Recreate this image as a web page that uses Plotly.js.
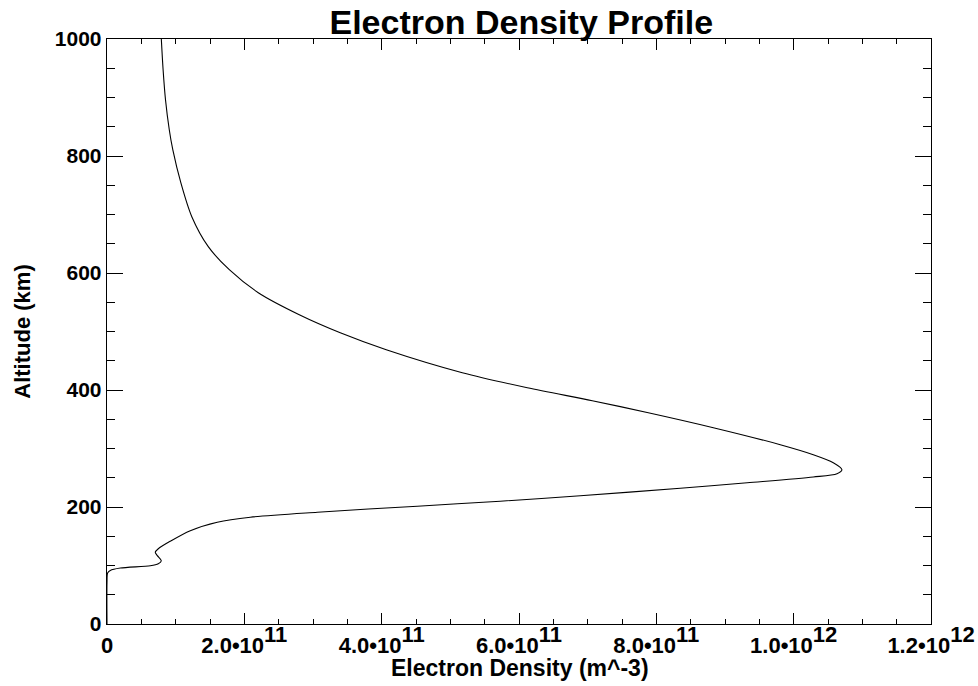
<!DOCTYPE html>
<html>
<head>
<meta charset="utf-8">
<script src="https://cdn.plot.ly/plotly-3.0.1.min.js"></script>
<style>html,body{margin:0;padding:0;background:#fff;}#chart{width:978px;height:686px;}</style>
</head>
<body>
<div id="chart"></div>
<script>
// Electron density (units of 1e11 m^-3) vs altitude (km)
const densityE11 = [0.791, 0.817, 0.852, 0.907, 0.958, 1.075, 1.235, 1.475, 1.781, 2.203, 2.800, 3.397, 4.067, 5.174, 6.121, 7.067, 7.883, 8.830, 9.805, 10.286, 10.577, 10.703,
  10.631, 10.286, 9.324, 8.349, 6.893, 5.727, 4.519, 3.063, 2.087, 1.606, 1.213, 0.922, 0.747, 0.703, 0.733, 0.791, 0.747, 0.631, 0.194, 0.048, 0.009, 0.0, 0.0];
const altitudeKm = [1000, 947.5, 896.2, 844.9, 810.8, 754.4, 696.2, 645.0, 605.6, 566.3, 528.7, 497.9, 468.9, 429.6, 403.9, 381.7, 361.2, 335.6, 306.5, 289.4, 275.7, 263.8,
  257.0, 251.3, 241.5, 232.1, 219.3, 209.9, 201.4, 191.1, 182.6, 174.0, 159.5, 141.5, 128.7, 122.7, 116.8, 108.2, 103.1, 99.7, 95.7, 91.6, 87.2, 70.6, 0];
const xTickVals = [0, 2e11, 4e11, 6e11, 8e11, 1e12, 1.2e12];
const xTickMant = ['0', '2.0', '4.0', '6.0', '8.0', '1.0', '1.2'];
const xTickExp = ['', '11', '11', '11', '11', '12', '12'];
const yTickVals = [0, 200, 400, 600, 800, 1000];

const density = densityE11.map(v => v * 1e11);
const font = {family: 'Liberation Sans, Arial, sans-serif', color: '#000'};
const S = '<span style="font-size:22px">';
const xTickText = xTickMant.map((m, i) => xTickExp[i] ?
  '<b>' + S + m + '•10</span><sup>' + S + xTickExp[i] + '</span></sup></b>' : '<b>' + S + m + '</span></b>');

Plotly.newPlot('chart', [{
  x: density, y: altitudeKm, type: 'scatter', mode: 'lines',
  line: {color: '#000', width: 1.1, shape: 'spline', smoothing: 0.8},
  hoverinfo: 'none'
}], {
  width: 978, height: 686,
  margin: {l: 106.7, r: 47.3, t: 39.3, b: 61.7},
  paper_bgcolor: '#fff', plot_bgcolor: '#fff',
  showlegend: false,
  title: {text: '<b>Electron Density Profile</b>', font: Object.assign({size: 34}, font), x: 0.533, xanchor: 'center', y: 0.968, yanchor: 'middle'},
  xaxis: {
    range: [0, 1.2e12], showgrid: false, zeroline: false,
    showline: true, linecolor: '#000', linewidth: 1.3, mirror: 'ticks',
    ticks: 'inside', ticklen: 11, tickcolor: '#000', tickwidth: 1,
    tickvals: xTickVals, ticktext: xTickText, ticklabelstandoff: -4,
    tickfont: Object.assign({size: 26}, font),
    minor: {dtick: 5e10, ticks: 'inside', ticklen: 5, tickcolor: '#000', tickwidth: 1, showgrid: false}
  },
  yaxis: {
    range: [0, 1000], showgrid: false, zeroline: false,
    showline: true, linecolor: '#000', linewidth: 1.3, mirror: 'ticks',
    ticks: 'inside', ticklen: 16, tickcolor: '#000', tickwidth: 1,
    tickvals: yTickVals, ticktext: yTickVals.map(v => '<b>' + v + '</b>'),
    tickfont: Object.assign({size: 21}, font),
    minor: {dtick: 50, ticks: 'inside', ticklen: 8, tickcolor: '#000', tickwidth: 1, showgrid: false},
    title: {text: '<b>Altitude (km)</b>', font: Object.assign({size: 22}, font), standoff: 18}
  },
  annotations: [{
    text: '<b>Electron Density (m^-3)</b>', xref: 'paper', yref: 'paper',
    x: 0.5016, y: -0.0747, xanchor: 'center', yanchor: 'middle', showarrow: false,
    font: Object.assign({size: 23}, font)
  }]
}, {displayModeBar: false, staticPlot: true});
</script>
</body>
</html>
